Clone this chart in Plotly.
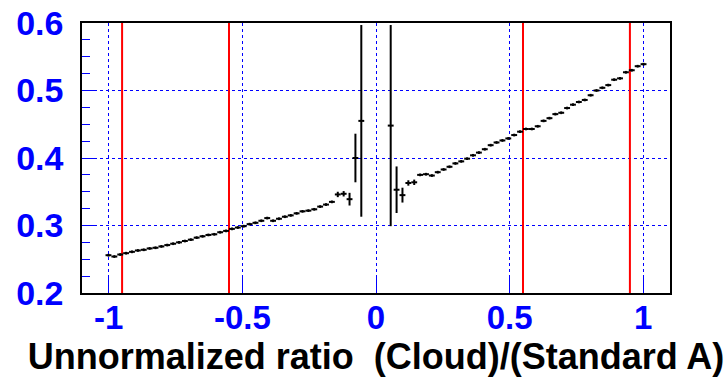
import plotly.graph_objects as go

# bin centres (bin width 0.022)
x_left = [-1.001, -0.979, -0.957, -0.935, -0.913, -0.891, -0.869, -0.847, -0.825, -0.803,
          -0.781, -0.759, -0.737, -0.715, -0.693, -0.671, -0.649, -0.627, -0.605, -0.583,
          -0.561, -0.539, -0.517, -0.495, -0.473, -0.451, -0.429, -0.407, -0.385, -0.363,
          -0.341, -0.319, -0.297, -0.275, -0.253, -0.231, -0.209, -0.187, -0.165, -0.143,
          -0.121, -0.099, -0.077, -0.055]
y_left = [0.256, 0.254, 0.257, 0.259, 0.261, 0.263, 0.264, 0.266, 0.267, 0.269,
          0.271, 0.273, 0.275, 0.277, 0.279, 0.282, 0.284, 0.286, 0.287, 0.290,
          0.292, 0.295, 0.297, 0.299, 0.302, 0.304, 0.307, 0.311, 0.307, 0.310,
          0.313, 0.315, 0.318, 0.321, 0.322, 0.324, 0.328, 0.331, 0.335, 0.346,
          0.347, 0.339, 0.400, 0.455]
e_left = [0.002] * 39 + [0.004, 0.004, 0.0094, 0.036, 0.142]

x_right = [0.055, 0.077, 0.099, 0.121, 0.143, 0.165, 0.187, 0.209, 0.231, 0.253,
           0.275, 0.297, 0.319, 0.341, 0.363, 0.385, 0.407, 0.429, 0.451, 0.473,
           0.495, 0.517, 0.539, 0.561, 0.583, 0.605, 0.627, 0.649, 0.671, 0.693,
           0.715, 0.737, 0.759, 0.781, 0.803, 0.825, 0.847, 0.869, 0.891, 0.913,
           0.935, 0.957, 0.979, 1.001]
y_right = [0.448, 0.353, 0.345, 0.363, 0.364, 0.375, 0.376, 0.374, 0.379, 0.383,
           0.387, 0.392, 0.395, 0.399, 0.404, 0.408, 0.413, 0.419, 0.423, 0.426,
           0.429, 0.434, 0.439, 0.443, 0.443, 0.447, 0.455, 0.459, 0.465, 0.467,
           0.474, 0.479, 0.483, 0.486, 0.493, 0.500, 0.504, 0.508, 0.516, 0.518,
           0.527, 0.530, 0.536, 0.539]
e_right = [0.149, 0.0345, 0.011, 0.004, 0.004] + [0.002] * 39

bin_half_width = 0.011
red_lines = [-0.95, -0.55, 0.55, 0.95]

x_ticks = [-1, -0.5, 0, 0.5, 1]
x_labels = ["-1", "-0.5", "0", "0.5", "1"]
y_ticks = [0.2, 0.3, 0.4, 0.5, 0.6]
y_labels = ["0.2", "0.3", "0.4", "0.5", "0.6"]

fig = go.Figure()

for xr in red_lines:
    fig.add_trace(go.Scatter(x=[xr, xr], y=[0.2, 0.6], mode="lines",
                             line=dict(color="red", width=2), showlegend=False,
                             hoverinfo="skip"))

xs = x_left + x_right
ys = y_left + y_right
es = e_left + e_right
fig.add_trace(go.Scatter(
    x=xs, y=ys, mode="markers",
    marker=dict(size=1, color="black"),
    error_x=dict(type="constant", value=bin_half_width, color="black", thickness=2, width=0),
    error_y=dict(type="data", array=es, color="black", thickness=2, width=0),
    showlegend=False,
))

font_y = dict(family="Liberation Sans", size=34, color="blue", weight="bold")
font_x = dict(family="Liberation Sans", size=33, color="blue", weight="bold")

fig.update_layout(
    width=727, height=377,
    margin=dict(l=82, r=57, t=23, b=84),
    plot_bgcolor="white", paper_bgcolor="white",
    xaxis=dict(
        range=[-1.1, 1.1], tickvals=x_ticks, ticktext=x_labels,
        ticks="inside", ticklen=16, tickcolor="blue", tickwidth=1,
        showline=True, linecolor="black", linewidth=1.5, mirror=True,
        showgrid=True, gridcolor="blue", griddash="dot", gridwidth=1,
        zeroline=False, tickfont=font_x, automargin=False, ticklabelstandoff=-5,
        title=dict(text="Unnormalized ratio  (Cloud)/(Standard A)",
                   font=dict(family="Liberation Sans", size=36, color="black", weight="bold"),
                   standoff=14),
    ),
    yaxis=dict(
        range=[0.2, 0.6], tickvals=y_ticks, ticktext=y_labels,
        ticks="inside", ticklen=15, tickcolor="blue", tickwidth=1,
        showline=True, linecolor="black", linewidth=1.5, mirror=True,
        showgrid=True, gridcolor="blue", griddash="dot", gridwidth=1,
        zeroline=False, tickfont=font_y, ticklabelstandoff=10, automargin=False,
        minor=dict(dtick=0.025, ticks="inside", ticklen=8, tickcolor="blue", showgrid=False),
    ),
)

fig.write_html("out.html")
